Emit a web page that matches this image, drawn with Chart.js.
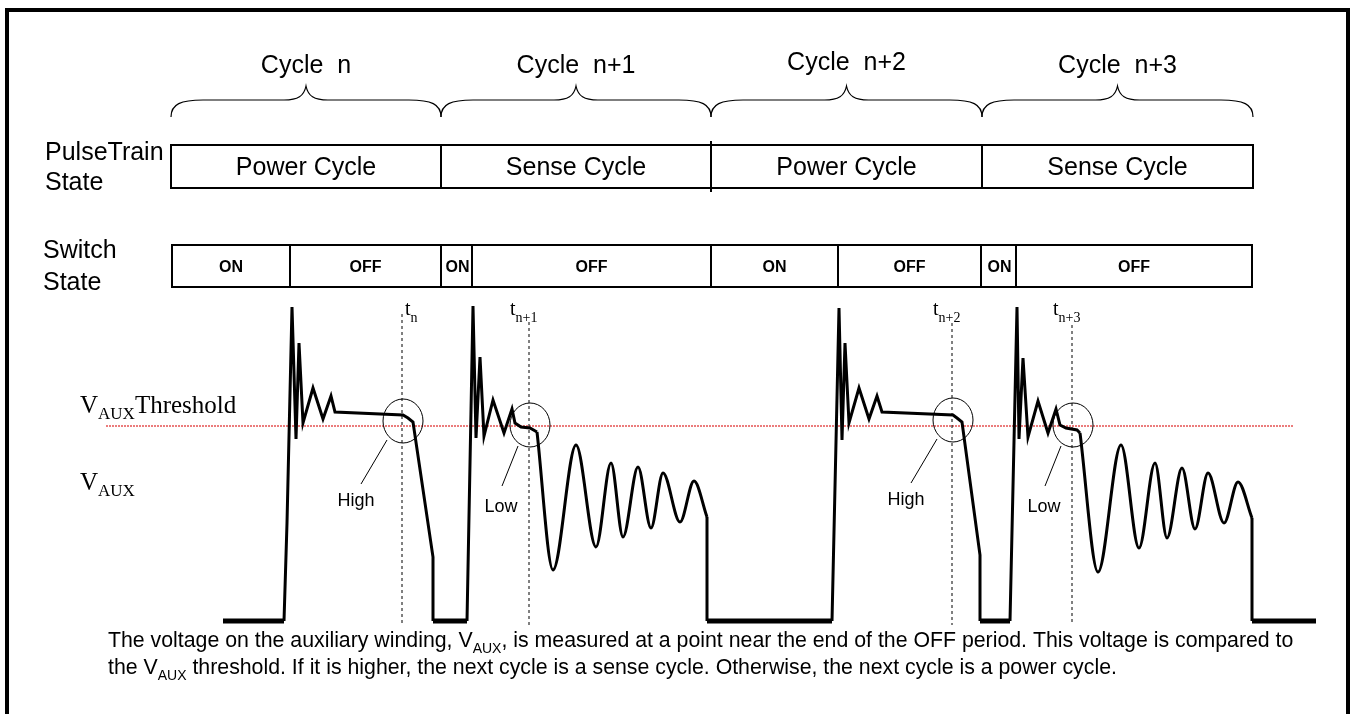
<!DOCTYPE html>
<html>
<head>
<meta charset="utf-8">
<script src="https://cdn.jsdelivr.net/npm/chart.js@4.4.1/dist/chart.umd.min.js"></script>
<style>
  html, body { margin: 0; padding: 0; background: #fff; }
</style>
</head>
<body>
<canvas id="timing" width="1352" height="714"></canvas>
<script>
// time runs along x (drawing units), V_AUX up the y axis (0 = floor while switch is ON)
const cycleNames = ["Cycle  n", "Cycle  n+1", "Cycle  n+2", "Cycle  n+3"];
const cycleTypes = ["Power Cycle", "Sense Cycle", "Power Cycle", "Sense Cycle"];
const cycleEdges = [171, 441, 711, 982, 1253];

const switchEdges = [172, 290, 441, 472, 711, 838, 981, 1016, 1252];
const switchStates = ["ON", "OFF", "ON", "OFF", "ON", "OFF", "ON", "OFF"];

const sampleTimes = [402, 529, 952, 1072];
const sampleSubs = ["n", "n+1", "n+2", "n+3"];
const sampleTops = [307, 299, 298, 296];
const sampleLevels = [200, 196, 201, 196];
const sampleResults = ["High", "Low", "High", "Low"];

const thresholdLevel = 195;
const thresholdStart = 106;
const thresholdEnd = 1293;

// piecewise-linear parts of V_AUX (null = gap)
const edgeT = [223, 284, 287, 292, 296, 299, 303, 313, 323, 331, 335, 403, 408, 413, 433, 433, 467, 473, 476, 480, 484, 493, 504, 512, 515, 521, 530, 537,
  null,
  707, 707, 832, 839, 842, 845, 849, 859, 869, 877, 882, 953, 957, 962, 980, 980, 1010, 1017, 1019, 1023, 1028, 1038, 1048, 1056, 1060, 1066, 1077, 1080,
  null,
  1252, 1252, 1316];
const edgeV = [0, 0, 98, 314, 182, 278, 198, 233, 202, 225, 209, 206, 203, 199, 64, 0, 0, 315, 183, 264, 185, 221, 188, 212, 198, 194, 193, 189,
  null,
  104, 0, 0, 313, 181, 278, 198, 233, 202, 225, 209, 206, 203, 199, 66, 0, 0, 314, 182, 263, 184, 220, 188, 212, 196, 193, 191, 188,
  null,
  103, 0, 0];

// damped ringing after the sense pulses
const ring1T = [537, 553, 576, 596, 611, 623, 638, 651, 663, 680, 694, 707];
const ring1V = [189, 51, 176, 74, 158, 84, 154, 93, 148, 99, 140, 104];
const ring2T = [1080, 1098, 1121, 1139, 1155, 1167, 1182, 1195, 1208, 1224, 1238, 1252];
const ring2V = [188, 49, 176, 73, 158, 83, 153, 92, 148, 98, 139, 103];

function pts(ts, vs) {
  return ts.map((t, i) => ({ x: t === null ? NaN : t, y: vs[i] }));
}

const markerPts = [];
sampleTimes.forEach((t, i) => {
  markerPts.push({ x: t, y: sampleTops[i] }, { x: t, y: -4 }, { x: t, y: null });
});

const SANS = '"Liberation Sans", Arial, sans-serif';
const SERIF = '"Liberation Serif", "Times New Roman", serif';

function subText(ctx, x, y, parts) {
  // parts: [text, font, dy]
  parts.forEach(([txt, font, dy]) => {
    ctx.font = font;
    ctx.fillText(txt, x, y + dy);
    x += ctx.measureText(txt).width;
  });
  return x;
}

function brace(ctx, x0, x1) {
  const mid = (x0 + x1) / 2, yEnd = 117, yBar = 100, yTip = 86;
  ctx.beginPath();
  ctx.moveTo(x0, yEnd);
  ctx.bezierCurveTo(x0, yBar + 4, x0 + 10, yBar, x0 + 32, yBar);
  ctx.lineTo(mid - 22, yBar);
  ctx.bezierCurveTo(mid - 8, yBar, mid - 2, yBar - 4, mid, yTip);
  ctx.bezierCurveTo(mid + 2, yBar - 4, mid + 8, yBar, mid + 22, yBar);
  ctx.lineTo(x1 - 32, yBar);
  ctx.bezierCurveTo(x1 - 10, yBar, x1, yBar + 4, x1, yEnd);
  ctx.stroke();
}

const annotate = {
  id: 'annotate',
  beforeDraw(chart) {
    const ctx = chart.ctx;
    ctx.save();
    ctx.fillStyle = '#fff';
    ctx.fillRect(0, 0, chart.width, chart.height);
    ctx.restore();
  },
  afterDraw(chart) {
    const { ctx, scales: { x, y } } = chart;
    ctx.save();
    ctx.fillStyle = '#000';
    ctx.strokeStyle = '#000';

    // frame
    ctx.lineWidth = 4;
    ctx.strokeRect(7, 10, 1341, 720);

    // cycle braces and names
    ctx.lineWidth = 1.2;
    ctx.textAlign = 'center';
    ctx.font = '25px ' + SANS;
    cycleNames.forEach((name, i) => {
      const a = x.getPixelForValue(cycleEdges[i]);
      const b = x.getPixelForValue(cycleEdges[i + 1]);
      brace(ctx, a, b);
      ctx.fillText(name, (a + b) / 2, i === 2 ? 70 : 73);
    });

    // pulse train state row
    ctx.lineWidth = 2;
    const pTop = 145, pBot = 188;
    cycleTypes.forEach((label, i) => {
      const a = x.getPixelForValue(cycleEdges[i]);
      const b = x.getPixelForValue(cycleEdges[i + 1]);
      ctx.strokeRect(a, pTop, b - a, pBot - pTop);
      ctx.fillText(label, (a + b) / 2, 175);
    });
    const midEdge = x.getPixelForValue(cycleEdges[2]);
    ctx.beginPath();
    ctx.moveTo(midEdge, pTop - 4);
    ctx.lineTo(midEdge, pBot + 4);
    ctx.stroke();

    // switch state row
    const sTop = 245, sBot = 287;
    ctx.font = 'bold 16px ' + SANS;
    switchStates.forEach((label, i) => {
      const a = x.getPixelForValue(switchEdges[i]);
      const b = x.getPixelForValue(switchEdges[i + 1]);
      ctx.strokeRect(a, sTop, b - a, sBot - sTop);
      ctx.fillText(label, (a + b) / 2 + (label === 'ON' && b - a < 40 ? 1 : 0), 272);
    });

    // row labels
    ctx.textAlign = 'left';
    ctx.font = '25px ' + SANS;
    ctx.fillText('PulseTrain', 45, 160);
    ctx.fillText('State', 45, 190);
    ctx.fillText('Switch', 43, 258);
    ctx.fillText('State', 43, 290);

    // V_AUX labels
    subText(ctx, 80, 413, [['V', '25px ' + SERIF, 0], ['AUX', '17px ' + SERIF, 6], ['Threshold', '25px ' + SERIF, 0]]);
    subText(ctx, 80, 490, [['V', '25px ' + SERIF, 0], ['AUX', '17px ' + SERIF, 6]]);

    // sample instants: labels, circles, leaders
    sampleTimes.forEach((t, i) => {
      const px = x.getPixelForValue(t);
      const lx = i === 0 ? px + 3 : px - 19;
      subText(ctx, lx, 315, [['t', '20px ' + SERIF, 0], [sampleSubs[i], '14px ' + SERIF, 7]]);

      const cy = y.getPixelForValue(sampleLevels[i]);
      ctx.lineWidth = 1;
      ctx.beginPath();
      ctx.ellipse(px + 1, cy, 20, 22, 0, 0, Math.PI * 2);
      ctx.stroke();

      const high = sampleResults[i] === 'High';
      const l0 = high ? [-15, 19] : [-11, 21];
      const l1 = high ? [-41, 63] : [-27, 61];
      ctx.beginPath();
      ctx.moveTo(px + l0[0], cy + l0[1]);
      ctx.lineTo(px + l1[0], cy + l1[1]);
      ctx.stroke();

      ctx.font = '18px ' + SANS;
      ctx.textAlign = 'center';
      ctx.fillText(sampleResults[i], px + (high ? -46 : -28), cy + (high ? 85 : 87));
      ctx.textAlign = 'left';
    });

    // caption
    const F = '21.3px ' + SANS, S = '14px ' + SANS;
    subText(ctx, 108, 647, [['The voltage on the auxiliary winding, V', F, 0], ['AUX', S, 6],
      [', is measured at a point near the end of the OFF period. This voltage is compared to', F, 0]]);
    subText(ctx, 108, 674, [['the V', F, 0], ['AUX', S, 6],
      [' threshold. If it is higher, the next cycle is a sense cycle. Otherwise, the next cycle is a power cycle.', F, 0]]);

    ctx.restore();
  }
};

new Chart(document.getElementById('timing'), {
  type: 'scatter',
  data: {
    datasets: [
      {
        label: 'V_AUX',
        data: pts(edgeT, edgeV),
        showLine: true,
        borderColor: '#000',
        borderWidth: 3,
        borderJoinStyle: 'miter',
        pointRadius: 0,
        spanGaps: false,
        segment: {
          borderWidth: c => (c.p0.parsed.y === 0 && c.p1.parsed.y === 0) ? 5 : 3
        }
      },
      {
        label: 'ringing 1',
        data: pts(ring1T, ring1V),
        showLine: true,
        borderColor: '#000',
        borderWidth: 3,
        pointRadius: 0,
        cubicInterpolationMode: 'monotone'
      },
      {
        label: 'ringing 2',
        data: pts(ring2T, ring2V),
        showLine: true,
        borderColor: '#000',
        borderWidth: 3,
        pointRadius: 0,
        cubicInterpolationMode: 'monotone'
      },
      {
        label: 'sample instants',
        data: markerPts,
        showLine: true,
        borderColor: '#000',
        borderWidth: 1,
        borderDash: [3, 3],
        pointRadius: 0,
        spanGaps: false
      },
      {
        label: 'V_AUX threshold',
        data: [{ x: thresholdStart, y: thresholdLevel }, { x: thresholdEnd, y: thresholdLevel }],
        showLine: true,
        borderColor: 'rgba(225, 50, 50, 0.85)',
        borderWidth: 1.5,
        borderDash: [2, 1],
        pointRadius: 0
      }
    ]
  },
  options: {
    responsive: false,
    animation: false,
    events: [],
    layout: { padding: 0 },
    plugins: { legend: { display: false }, tooltip: { enabled: false } },
    scales: {
      x: { type: 'linear', min: 0, max: 1352, display: false },
      y: { type: 'linear', min: -93, max: 621, display: false }
    }
  },
  plugins: [annotate]
});
</script>
</body>
</html>
